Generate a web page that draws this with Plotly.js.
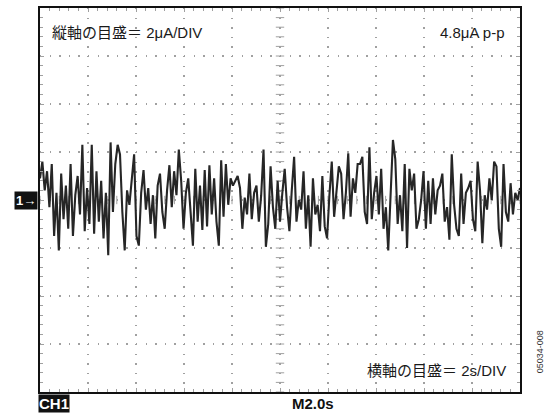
<!DOCTYPE html>
<html>
<head>
<meta charset="utf-8">
<script src="https://cdn.plot.ly/plotly-3.0.1.min.js"></script>
<style>html,body{margin:0;padding:0;background:#fff}#chart{width:546px;height:413px}</style>
</head>
<body>
<div id="chart"></div>
<script>
// Noise current in µA (2 µA/DIV), 10 s span (2 s/DIV)
const seg1 = [0.9, 1.6, 0.4, 1.2, -0.3, 1.5, -1.5, 0.3, -2.1, 1.1, -0.8, 0.6, -1.2, 1.5, -1.5, 0.2, 1.0, -0.6, 2.3, -1.3, 0.5, -1.0, 2.3, -1.4, 1.2, -0.9, 0.8, -1.6, 0.3, -2.3, 2.4, -0.5, 1.5, 2.3];
const seg2 = [1.9, -0.5, -2.1, 0.4, -0.2, 0.8, 1.9, -1.5, -1.9, 0.3, 1.25, -0.4, 0.5, -1.0, 0.2, -1.6, 0.6, 1.1, -0.5, -1.2, 0.4, 1.45, -0.3, 1.2, 0.2, 2.1, 0.8, -1.2, 0.3, 0.9, -0.4, -1.9, 1.3, -0.9];
const seg3 = [0.6, -1.25, 1.25, -1.1, 1.45, -0.6, 0.9, -0.9, -1.9, 1.65, -0.7, 1.5, -0.2, 0.9, 0.6, 0.8, 1.0, 0.5, -1.2, 0.1, -0.6, 1.1, -0.8, 0.3, 0.6, -0.9, 0.2, 2.1, -1.95, -1.0, 1.4, -0.3, -1.2, 0.8];
const seg4 = [-0.9, 0.3, 1.3, -0.3, -1.3, 0.4, 1.8, -0.9, 0.0, -0.4, 1.2, -1.2, 0.2, -1.95, 0.9, -0.6, -0.2, -1.3, 1.0, -1.1, -1.6, 0.2, 1.6, -0.7, 0.4, 1.4, 1.1, -0.8, 0.3, 1.95, -0.7, 0.9, 0.3, 1.5];
const seg5 = [1.5, 1.8, -0.5, -1.0, 2.2, -0.8, 0.3, 1.0, -0.6, 1.3, -1.2, -0.3, -2.1, 0.6, 2.5, 1.7, -1.0, 0.2, -1.3, 1.5, -2.0, 1.3, 0.4, 1.1, -1.2, -0.8, 0.0, 1.2, -1.2, 0.8, -1.0, 0.9, -0.6, 0.4];
const seg6 = [0.6, 1.1, -0.9, -0.3, -1.65, 1.9, -0.2, -1.2, -1.5, 1.1, -1.0, 0.3, 0.5, 0.8, -0.8, -1.3, 1.6, 0.4, -1.8, 0.2, -0.4, 0.9, 0.0, 1.6, 1.4, -1.2, -1.95, 1.5, -0.5, -0.9, 0.7, -0.6, 0.3, 0.0, 0.5];
const currentUA = [].concat(seg1, seg2, seg3, seg4, seg5, seg6);
const timeSpan = 10; // seconds

const labelV = "縦軸の目盛＝ 2μA/DIV";
const labelPP = "4.8μA p-p";
const labelH = "横軸の目盛＝ 2s/DIV";
const labelCH = "CH1";
const labelM = "M2.0s";
const labelMarker = "1→";
const labelId = "05034-008";

const n = currentUA.length;
const timeS = currentUA.map((_, i) => i * timeSpan / (n - 1));

// crosshair minor tick decorations (graticule)
const hx = [], hy = [], vx = [], vy = [];
for (let k = 0; k <= 50; k++) { hx.push(k * 0.2); hy.push(0); }
for (let k = 0; k <= 40; k++) { vx.push(5); vy.push(-8 + k * 0.4); }

const gridColor = '#a0a0a0';
const traces = [
  {x: hx, y: hy, mode: 'markers', hoverinfo: 'skip', showlegend: false,
   marker: {symbol: 'line-ns', size: 6, line: {width: 1, color: gridColor}}},
  {x: vx, y: vy, mode: 'markers', hoverinfo: 'skip', showlegend: false,
   marker: {symbol: 'line-ew', size: 6, line: {width: 1, color: gridColor}}},
  {x: timeS, y: currentUA, mode: 'lines', showlegend: false,
   line: {color: '#262626', width: 2.1}}
];

const axisCommon = {
  showline: true, linewidth: 2, linecolor: '#111', mirror: 'allticks',
  ticks: 'inside', ticklen: 4, tickwidth: 1, tickcolor: gridColor,
  showticklabels: false, zeroline: false,
  showgrid: true, gridcolor: gridColor, gridwidth: 1.3, griddash: '1.3px,8.3px',
  fixedrange: true
};

const layout = {
  width: 546, height: 413,
  margin: {l: 40, r: 26, t: 8, b: 21, pad: 0},
  paper_bgcolor: '#fff', plot_bgcolor: '#fff',
  xaxis: Object.assign({}, axisCommon, {range: [0, 10], dtick: 1, tick0: 0,
    minor: {dtick: 0.2, ticks: 'inside', ticklen: 3, tickcolor: gridColor, showgrid: false}}),
  yaxis: Object.assign({}, axisCommon, {range: [-8, 8], dtick: 2, tick0: 0,
    minor: {dtick: 0.4, ticks: 'inside', ticklen: 3, tickcolor: gridColor, showgrid: false}}),
  font: {family: 'Liberation Sans, Arial, Noto Sans CJK JP, sans-serif', color: '#1a1a1a'},
  annotations: [
    {xref: 'paper', yref: 'paper', x: 0.021, y: 0.935, xanchor: 'left', yanchor: 'middle',
     text: labelV, showarrow: false, font: {size: 15, color: '#1a1a1a'}},
    {xref: 'paper', yref: 'paper', x: 0.973, y: 0.935, xanchor: 'right', yanchor: 'middle',
     text: labelPP, showarrow: false, font: {size: 15, color: '#1a1a1a'}},
    {xref: 'paper', yref: 'paper', x: 0.975, y: 0.057, xanchor: 'right', yanchor: 'middle',
     text: labelH, showarrow: false, font: {size: 15, color: '#1a1a1a'}},
    {xref: 'paper', yref: 'paper', x: -0.004, y: 0.5, xanchor: 'right', yanchor: 'middle',
     text: '<b>' + labelMarker + '</b>', showarrow: false, bgcolor: '#111', borderpad: 1,
     font: {size: 13, color: '#fff'}},
    {xref: 'paper', yref: 'paper', x: -0.004, y: -0.030, xanchor: 'left', yanchor: 'middle',
     text: '<b>' + labelCH + '</b>', showarrow: false, bgcolor: '#111', borderpad: 0,
     font: {size: 15, color: '#fff'}},
    {xref: 'paper', yref: 'paper', x: 0.521, y: -0.031, xanchor: 'left', yanchor: 'middle',
     text: '<b>' + labelM + '</b>', showarrow: false,
     font: {size: 15, color: '#111'}},
    {xref: 'paper', yref: 'paper', x: 1.042, y: 0.104, xanchor: 'center', yanchor: 'middle',
     text: labelId, textangle: -90, showarrow: false,
     font: {size: 9, color: '#333'}}
  ]
};

Plotly.newPlot('chart', traces, layout, {staticPlot: true, displayModeBar: false});
</script>
</body>
</html>
